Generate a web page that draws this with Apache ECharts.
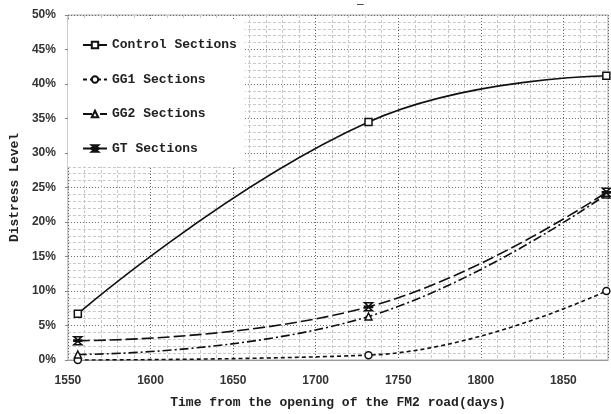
<!DOCTYPE html>
<html>
<head>
<meta charset="utf-8">
<script src="https://cdn.jsdelivr.net/npm/echarts@6/dist/echarts.min.js"></script>
<style>
  html, body { margin: 0; padding: 0; background: #fff; }
  #chart { width: 611px; height: 414px; }
</style>
</head>
<body>
<div id="chart"></div>
<script>
// days since opening of the FM2 road
var days = [1556, 1732, 1876];
// distress level, percent
var controlSections = [6.7, 34.5, 41.2];
var gg1Sections = [0.0, 0.7, 10.0];
var gg2Sections = [0.8, 6.3, 24.0];
var gtSections = [2.8, 7.7, 24.3];
var seriesNames = ["Control Sections", "GG1 Sections", "GG2 Sections", "GT Sections"];

var monoFont = "'Liberation Mono', 'DejaVu Sans Mono', monospace";
var labelFont = "'Liberation Sans', Arial, sans-serif";

// bow-tie star marker for the GT series
var starPath = "path://M0,0 L10,0 L5,4.2 Z M0,10 L10,10 L5,5.8 Z M0,4.3 L10,4.3 L10,5.7 L0,5.7 Z";

function pairs(vals) {
  return vals.map(function (v, i) { return [days[i], v]; });
}

function makeSeries(name, vals, symbol, dash) {
  return {
    name: name,
    type: "line",
    data: pairs(vals),
    smooth: 0.45,
    symbol: symbol,
    symbolSize: symbol === starPath ? 8 : 7,
    showAllSymbol: true,
    itemStyle: { color: "#fff", borderColor: "#111", borderWidth: 1.5 },
    lineStyle: { color: "#111", width: 1.6, type: dash },
    emphasis: { disabled: true },
    z: 3
  };
}

var chart = echarts.init(document.getElementById("chart"));
chart.setOption({
  animation: false,
  title: {
    text: "\u2013",
    left: 352,
    top: -6,
    textStyle: { fontSize: 12, color: "#333", fontWeight: "normal" }
  },
  grid: {
    left: 66,
    right: 0,
    top: 15,
    bottom: 50,
    show: true,
    borderColor: "#aaa",
    borderWidth: 1
  },
  legend: {
    orient: "vertical",
    left: 68,
    top: 20,
    padding: [18, 8, 11, 14],
    backgroundColor: "#fff",
    itemWidth: 24,
    itemHeight: 8,
    itemGap: 20.5,
    data: seriesNames,
    textStyle: {
      fontFamily: monoFont,
      fontWeight: "bold",
      fontSize: 13,
      lineHeight: 14,
      color: "#222"
    }
  },
  xAxis: {
    type: "value",
    min: 1550,
    max: 1877,
    interval: 50,
    name: "Time from the opening of the FM2 road(days)",
    nameLocation: "middle",
    nameGap: 36,
    nameTextStyle: { fontFamily: monoFont, fontWeight: "bold", fontSize: 13, color: "#222" },
    axisLine: { show: true, lineStyle: { color: "#999", width: 1 } },
    axisTick: { show: false },
    axisLabel: {
      margin: 15,
      fontFamily: labelFont,
      fontWeight: "bold",
      fontSize: 12,
      color: "#333",
      formatter: function (v) { return v % 50 === 0 ? String(v) : ""; }
    },
    splitLine: { show: true, lineStyle: { color: "#666", type: [1, 2], width: 1 } },
    minorTick: { show: false, splitNumber: 5 },
    minorSplitLine: { show: true, lineStyle: { color: "#c8c8c8", type: [3, 2], width: 1 } }
  },
  yAxis: {
    type: "value",
    min: 0,
    max: 50,
    interval: 5,
    name: "Distress Level",
    nameLocation: "middle",
    nameGap: 35,
    nameTextStyle: { fontFamily: monoFont, fontWeight: "bold", fontSize: 13, color: "#222" },
    axisLine: { show: false },
    axisTick: { show: true, length: 3, lineStyle: { color: "#888" } },
    axisLabel: {
      margin: 12,
      fontFamily: labelFont,
      fontWeight: "bold",
      fontSize: 12,
      color: "#333",
      formatter: "{value}%"
    },
    splitLine: { show: true, lineStyle: { color: "#666", type: [1, 2], width: 1 } },
    minorTick: { show: false, splitNumber: 5 },
    minorSplitLine: { show: true, lineStyle: { color: "#c8c8c8", type: [3, 2], width: 1 } }
  },
  series: [
    makeSeries(seriesNames[0], controlSections, "rect", "solid"),
    makeSeries(seriesNames[1], gg1Sections, "circle", [4, 3]),
    makeSeries(seriesNames[2], gg2Sections, "triangle", [9, 3, 2, 3]),
    makeSeries(seriesNames[3], gtSections, starPath, [12, 4])
  ]
});
</script>
</body>
</html>
